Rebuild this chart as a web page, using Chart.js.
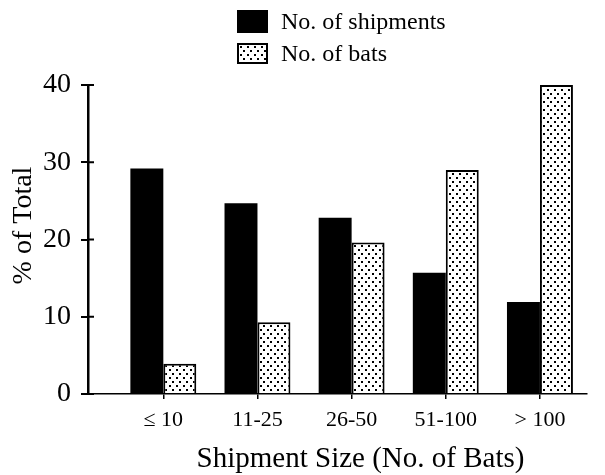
<!DOCTYPE html>
<html>
<head>
<meta charset="utf-8">
<script src="https://cdn.jsdelivr.net/npm/chart.js@4.4.1/dist/chart.umd.min.js"></script>
<style>
  html, body { margin: 0; padding: 0; background: #fff; }
  #wrap { position: relative; width: 605px; height: 475px; }
  #legend { position: absolute; left: 237px; top: 10px; font-family: 'Liberation Serif', serif; font-size: 24px; color: #000; }
  .item { display: flex; align-items: center; height: 23px; margin-bottom: 9px; }
  .box { width: 31px; height: 23px; box-sizing: border-box; margin-right: 13px; }
</style>
</head>
<body>
<div id="wrap">
  <canvas id="myChart" width="605" height="475"></canvas>
  <div id="legend">
    <div class="item"><div class="box" style="background:#000"></div><span>No. of shipments</span></div>
    <div class="item"><div class="box" id="stippleBox" style="border:2px solid #000;height:21px"></div><span>No. of bats</span></div>
  </div>
</div>
<script>
const categories = ['≤ 10', '11-25', '26-50', '51-100', '> 100']
const shipments = [29.2, 24.7, 22.8, 15.7, 11.9]
const bats = [3.9, 9.3, 19.6, 29.0, 40.0]
const yTicks = [0, 10, 20, 30, 40]

const xTitle = 'Shipment Size (No. of Bats)'
const yTitle = '% of Total'

const serif = 'Liberation Serif'

// stippled fill used for the "No. of bats" bars
function makeStippleTile () {
  const c = document.createElement('canvas')
  c.width = 7
  c.height = 8
  const ctx = c.getContext('2d')
  ctx.fillStyle = '#fff'
  ctx.fillRect(0, 0, 7, 8)
  ctx.fillStyle = '#000'
  ctx.fillRect(1, 1, 2, 2)
  ctx.fillRect(4, 5, 2, 2)
  return c
}

const tile = makeStippleTile()
const stipple = document.getElementById('myChart').getContext('2d').createPattern(tile, 'repeat')
document.getElementById('stippleBox').style.backgroundImage = 'url(' + tile.toDataURL() + ')'

// small tick stubs on the inside of the y axis, plus the axis titles
const axisExtras = {
  id: 'axisExtras',
  afterDatasetsDraw (chart) {
    const y = chart.scales.y
    const area = chart.chartArea
    const ctx = chart.ctx
    ctx.save()
    ctx.strokeStyle = '#000'
    ctx.lineWidth = 2
    y.ticks.forEach(t => {
      const py = y.getPixelForValue(t.value)
      ctx.beginPath()
      ctx.moveTo(y.right, py)
      ctx.lineTo(y.right + 6, py)
      ctx.stroke()
    })

    ctx.fillStyle = '#000'
    ctx.textAlign = 'center'
    ctx.textBaseline = 'middle'
    ctx.font = '29px "' + serif + '"'
    ctx.fillText(xTitle, (area.left + area.right) / 2 + 23, 459)

    ctx.font = '28px "' + serif + '"'
    ctx.translate(24, (area.top + area.bottom) / 2 - 14)
    ctx.rotate(-Math.PI / 2)
    ctx.fillText(yTitle, 0, 0)
    ctx.restore()
  }
}

new Chart(document.getElementById('myChart'), {
  type: 'bar',
  data: {
    datasets: [
      {
        label: 'No. of shipments',
        data: shipments.map((v, i) => ({ x: i + 1, y: v })),
        backgroundColor: '#000',
        borderWidth: 0
      },
      {
        label: 'No. of bats',
        data: bats.map((v, i) => ({ x: i + 1, y: v })),
        backgroundColor: stipple,
        borderColor: '#000',
        borderWidth: 2
      }
    ]
  },
  options: {
    responsive: false,
    animation: false,
    devicePixelRatio: 1,
    layout: { padding: { top: 85, right: 18, left: 0, bottom: 0 } },
    datasets: { bar: { categoryPercentage: 0.7, barPercentage: 1 } },
    scales: {
      x: {
        type: 'linear',
        min: 0.2,
        max: 5.5,
        offset: false,
        afterBuildTicks: s => { s.ticks = categories.map((c, i) => ({ value: i + 1 })) },
        afterFit: s => { s.height = 81 },
        grid: { offset: false, drawOnChartArea: false, tickLength: 5, lineWidth: 1.5, color: '#000' },
        border: { color: '#000', width: 1.5 },
        ticks: {
          autoSkip: false,
          maxRotation: 0,
          padding: 8,
          color: '#000',
          font: { family: serif, size: 22 },
          callback: v => categories[v - 1]
        }
      },
      y: {
        min: 0,
        max: 40,
        afterBuildTicks: s => { s.ticks = yTicks.map(v => ({ value: v })) },
        afterFit: s => { s.width = 88 },
        grid: { drawOnChartArea: false, tickLength: 7, lineWidth: 2, color: '#000' },
        border: { color: '#000', width: 2.5 },
        ticks: {
          padding: 10,
          color: '#000',
          font: { family: serif, size: 28 }
        }
      }
    },
    plugins: {
      legend: { display: false },
      tooltip: { enabled: false }
    }
  },
  plugins: [axisExtras]
})
</script>
</body>
</html>
